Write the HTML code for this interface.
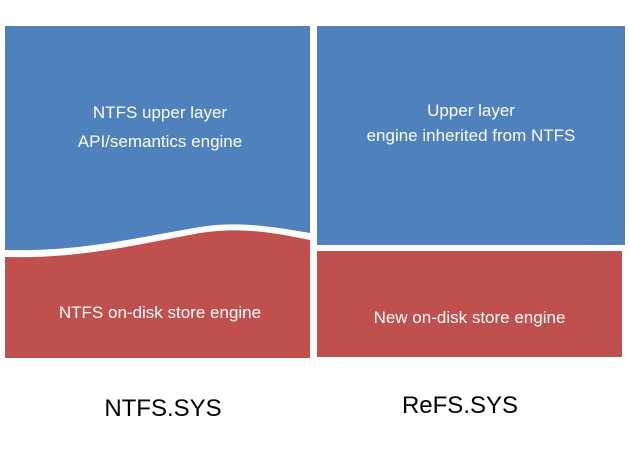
<!DOCTYPE html>
<html><head><meta charset="utf-8"><style>
html,body{margin:0;padding:0;background:#fff;}
body{width:630px;height:450px;position:relative;overflow:hidden;font-family:"Liberation Sans",sans-serif;}
.t{position:absolute;color:#fff;font-size:17px;text-align:center;line-height:29px;white-space:nowrap;}
.b{position:absolute;color:#000;font-size:24px;text-align:center;white-space:nowrap;}
</style></head><body>
<svg width="630" height="450" style="position:absolute;left:0;top:0">
<path d="M5 26 H310 V233 C260 224 230 222 200 227 C140 237 80 252 5 250 Z" fill="#4f81bd"/>
<path d="M5 257 C80 259 140 244 200 233 C240 227 270 232 310 240 V358 H5 Z" fill="#c0504d"/>
<rect x="317" y="26" width="308" height="219" fill="#4f81bd"/>
<rect x="317" y="251" width="305" height="106" fill="#c0504d"/>
</svg>
<div class="t" style="left:5px;width:310px;top:98px">NTFS upper layer<br>API/semantics engine</div>
<div class="t" style="left:317px;width:308px;top:98px;line-height:25px">Upper layer<br>engine inherited from NTFS</div>
<div class="t" style="left:5px;width:310px;top:298px">NTFS on-disk store engine</div>
<div class="t" style="left:317px;width:305px;top:303px">New on-disk store engine</div>
<div class="b" style="left:63px;width:200px;top:395px">NTFS.SYS</div>
<div class="b" style="left:360px;width:200px;top:392px">ReFS.SYS</div>
</body></html>
